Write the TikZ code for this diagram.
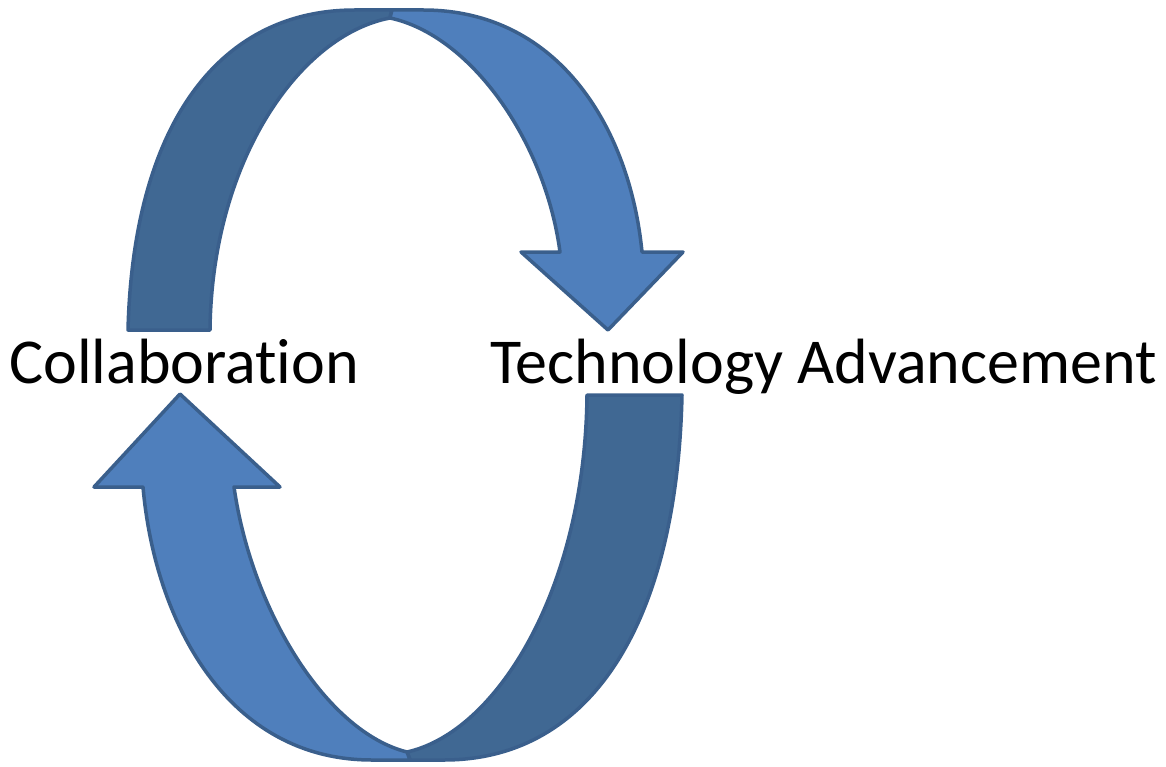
\documentclass[tikz,border=0pt]{standalone}
\usepackage{fontspec}
\setmainfont{Carlito}[Ligatures=NoCommon]
\begin{document}
\begin{tikzpicture}[x=1pt,y=-1pt,
  band/.style={draw=bandedge,line width=3.5pt,line join=round},
  backband/.style={band,fill=bandback},
  frontband/.style={band,fill=bandfront},
  label/.style={inner sep=0pt,anchor=base west,font=\fontsize{64}{70}\selectfont}]
\definecolor{bandedge}{HTML}{3A5F8C}
\definecolor{bandback}{HTML}{406893}
\definecolor{bandfront}{HTML}{4F7FBC}
\useasboundingbox (0,0) rectangle (1166,767);

% upper loop: back half (left) and front half with the head (right)
\draw[backband] (128,330) .. controls (133,130) and (215,10) .. (355,10)
  -- (392,10) -- (390,18) .. controls (300,35) and (212,160) .. (210,330) -- cycle;
\draw[frontband] (392,10) -- (423,10) .. controls (560,10) and (630,130) .. (642,252)
  -- (683,252) -- (608,330) -- (521,252) -- (560,252)
  .. controls (545,140) and (470,35) .. (390,18) -- cycle;

% lower loop: back half (right) and front half with the head (left)
\draw[backband] (682,395) .. controls (677,623) and (591,760) .. (444,760)
  -- (410,760) -- (407,752) .. controls (497,732) and (585,589) .. (587,395) -- cycle;
\draw[frontband] (410,760) -- (372,760) .. controls (228,760) and (155,623) .. (143,487)
  -- (94,487) -- (180,394) -- (280,487) -- (234,487)
  .. controls (252,612) and (327,732) .. (407,752) -- cycle;

\node[label] (collab) at (9,383) {Collaboration};
\node[label] (techadv) at (490,383) {Technology Advancement};
\end{tikzpicture}
\end{document}
